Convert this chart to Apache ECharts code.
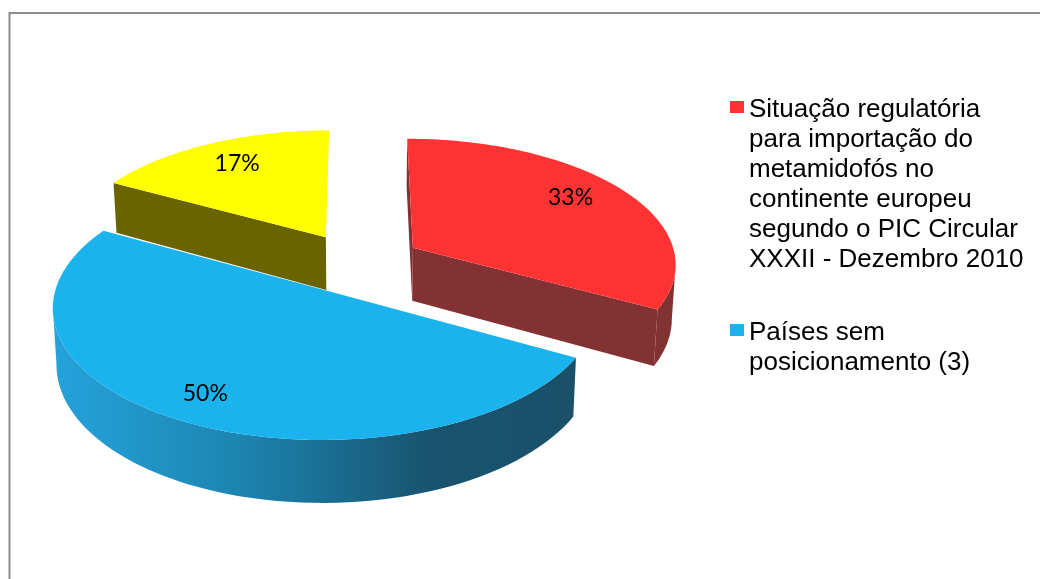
<!DOCTYPE html>
<html>
<head>
<meta charset="utf-8">
<style>
  html, body { margin: 0; padding: 0; background: #fff; }
  #main { width: 1040px; height: 579px; }
</style>
<script src="https://cdn.jsdelivr.net/npm/echarts@6/dist/echarts.min.js"></script>
</head>
<body>
<div id="main"></div>
<script>
// slices, clockwise from 12 o'clock
const sliceNames = ["Situação regulatória", "Países sem posicionamento (3)", "Outros"]
const sliceValues = [33, 50, 17]
const legendLabels = [
  ["Situação regulatória", "para importação do", "metamidofós no", "continente europeu", "segundo o PIC Circular", "XXXII - Dezembro 2010"],
  ["Países sem", "posicionamento (3)"],
]
const legendColors = ["#ff3333", "#1ab3ee"]

const topColors = ["#ff3333", "#1ab3ee", "#ffff00"]
const wallColors = ["#833233", "#1a5068", "#6a6400"]
// small nudges of the percent labels, in pixels
const labelNudge = [[-7, -4], [-7, 5], [4, 1]]

// pie projection
const CX = 358, CY = 263
const RX = 264, RY = 125
const PERSP = 0.117
const DEPTH = 54
const EXPLODE = 0.245
const total = sliceValues.reduce((a, b) => a + b, 0)

// u, v are plane coordinates around the pie centre, v points to the back
function project(u, v) {
  let w = 1 + PERSP * v
  return [CX + RX * u / w, CY - RY * v / w]
}
// same point pushed down by the thickness of the pie
function drop(u, v) {
  let p = project(u, v)
  let w = 1 + PERSP * v
  return [CX + (p[0] - CX) * 0.988, p[1] + DEPTH / w]
}

function renderSlice(index) {
  return function (params, api) {
    let start = 0
    for (let i = 0; i < index; i++) start += sliceValues[i]
    let a0 = (start / total) * Math.PI * 2
    let a1 = ((start + api.value(0)) / total) * Math.PI * 2
    let mid = (a0 + a1) / 2
    let ou = EXPLODE * Math.sin(mid)
    let ov = EXPLODE * Math.cos(mid)

    let topArc = [], lowArc = []
    let steps = 80
    for (let i = 0; i <= steps; i++) {
      let t = a0 + ((a1 - a0) * i) / steps
      topArc.push(project(ou + Math.sin(t), ov + Math.cos(t)))
      lowArc.push(drop(ou + Math.sin(t), ov + Math.cos(t)))
    }
    let apex = project(ou, ov)
    let apexLow = drop(ou, ov)

    let wallFill = wallColors[index]
    let rimFill = wallFill
    if (index == 1) {
      rimFill = {
        type: "linear", x: 50, y: 0, x2: 575, y2: 0, global: true,
        colorStops: [
          { offset: 0, color: "#25a3dc" },
          { offset: 0.35, color: "#1c86b2" },
          { offset: 0.72, color: "#185470" },
          { offset: 1, color: "#1a5068" },
        ],
      }
    }
    let label = project(ou + 0.78 * Math.sin(mid), ov + 0.78 * Math.cos(mid))
    let percent = Math.round((api.value(0) / total) * 100) + "%"

    let children = []
    // radial walls, only the ones turned to the viewer
    if (Math.sin(a0) < 0.01) {
      children.push({ type: "polygon", shape: { points: [apex, topArc[0], lowArc[0], apexLow] }, style: { fill: wallFill } })
    }
    if (Math.sin(a1) > 0.01) {
      children.push({ type: "polygon", shape: { points: [apex, topArc[steps], lowArc[steps], apexLow] }, style: { fill: wallFill } })
    }
    // outer rim: the front part of the arc is where x runs leftwards
    let first = -1, last = -1
    for (let i = 0; i < steps; i++) {
      if (topArc[i + 1][0] < topArc[i][0]) {
        if (first < 0) first = i
        last = i + 1
      }
    }
    if (first >= 0) {
      let upper = topArc.slice(first, last + 1)
      let lower = lowArc.slice(first, last + 1).reverse()
      children.push({ type: "polygon", shape: { points: upper.concat(lower) }, style: { fill: rimFill } })
    }
    children.push({ type: "polygon", shape: { points: [apex].concat(topArc) }, style: { fill: topColors[index] } })
    children.push({
      type: "text",
      style: {
        text: percent, x: label[0] + labelNudge[index][0], y: label[1] + labelNudge[index][1],
        align: "center", verticalAlign: "middle",
        fill: "#000", font: '23px Lato, "Open Sans", sans-serif',
      },
    })
    return { type: "group", children: children }
  }
}

// back slice first so the front ones sit on top
const drawOrder = [2, 0, 1]
const series = drawOrder.map(i => ({
  type: "custom",
  name: sliceNames[i],
  coordinateSystem: "none",
  silent: true,
  animation: false,
  data: [[sliceValues[i]]],
  renderItem: renderSlice(i),
}))

// frame + legend
const legendMiddle = [108, 331]
const graphic = [
  { type: "polyline", shape: { points: [[9.5, 579], [9.5, 13], [1040, 13]] }, style: { stroke: "#8c8c8c", lineWidth: 2, fill: null } },
]
legendLabels.forEach((lines, i) => {
  graphic.push({
    type: "rect",
    shape: { x: 730, y: legendMiddle[i] - 7, width: 14, height: 12 },
    style: { fill: legendColors[i] },
  })
  lines.forEach((line, k) => {
    graphic.push({
      type: "text",
      x: 749,
      y: legendMiddle[i] + 1.5 + k * 30,
      style: {
        text: line, fill: "#000", align: "left", verticalAlign: "middle",
        font: '26px "Liberation Sans", Arial, sans-serif',
      },
    })
  })
})

const chart = echarts.init(document.getElementById("main"), null, { renderer: "canvas" })
chart.setOption({
  backgroundColor: "#fff",
  animation: false,
  graphic: graphic,
  series: series,
})
</script>
</body>
</html>
